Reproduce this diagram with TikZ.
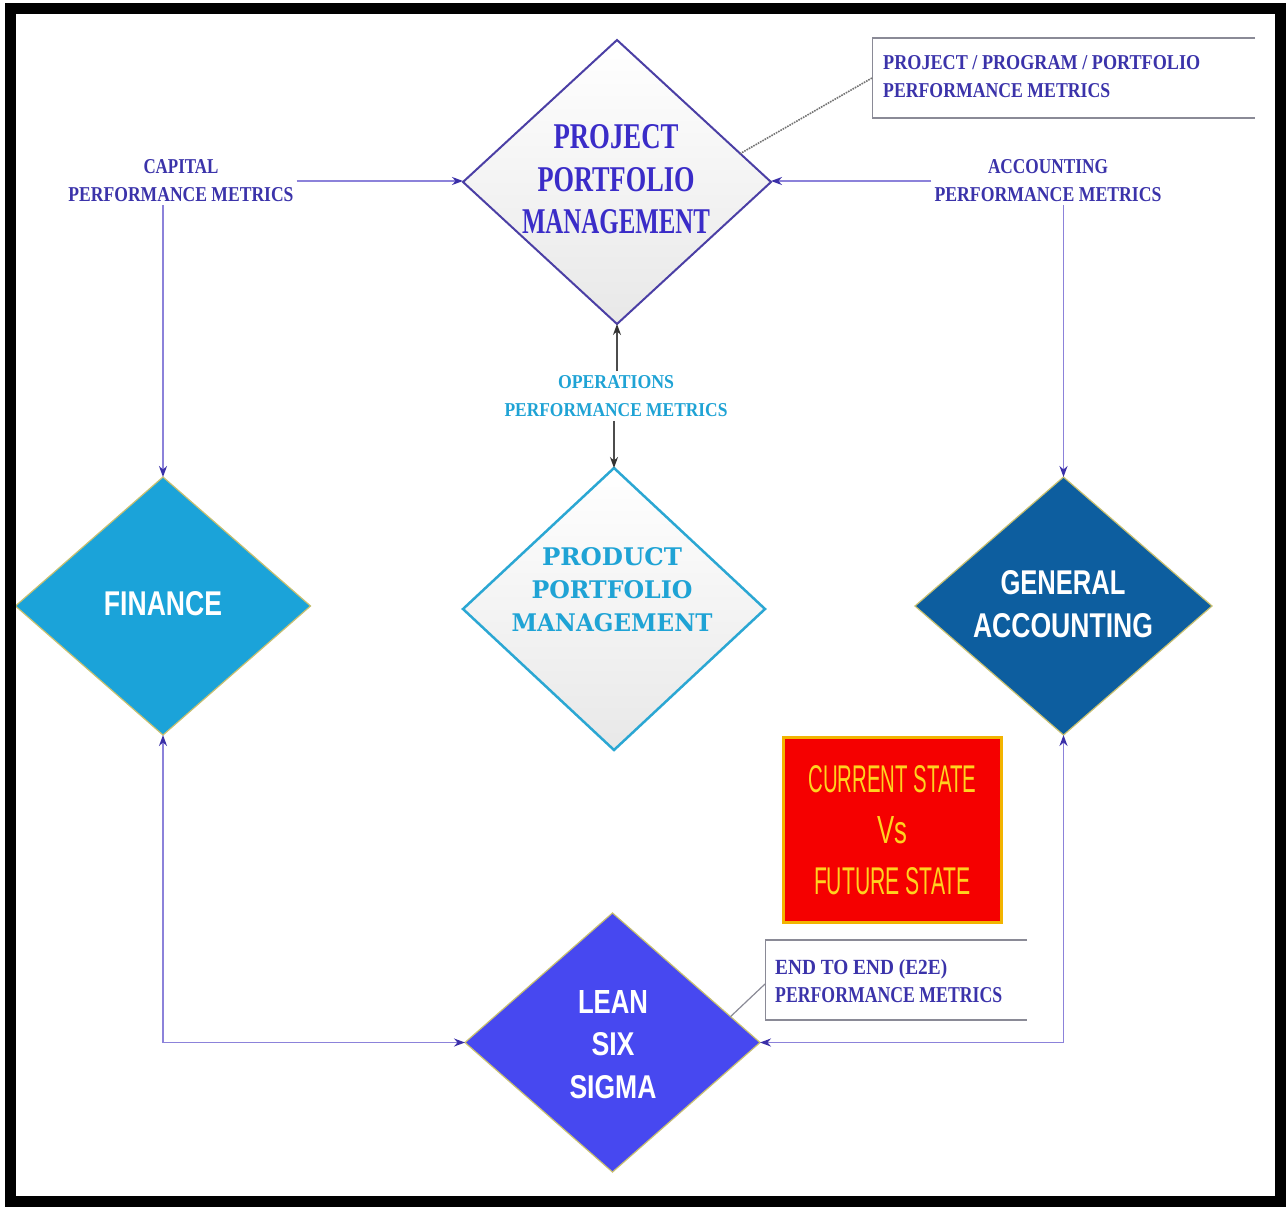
\documentclass[tikz,border=0pt]{standalone}
\usepackage{fontspec}
\usepackage{graphicx}
\usetikzlibrary{shapes.geometric,arrows.meta,calc}
\newfontfamily\lserif{Liberation Serif}
\newfontfamily\lsans{Liberation Sans}
\newfontfamily\dvserif{DejaVu Serif}
\newcommand\fl[3]{\resizebox{#1pt}{#2pt}{#3}}
\definecolor{ppmtext}{HTML}{3A2CC8}
\definecolor{ppmedge}{HTML}{4B3FA5}
\definecolor{metric}{HTML}{3B33AA}
\definecolor{opstext}{HTML}{1FA3D5}
\definecolor{prodedge}{HTML}{2BA7D3}
\definecolor{finfill}{HTML}{1BA3D9}
\definecolor{gafill}{HTML}{0D5E9F}
\definecolor{lssfill}{HTML}{4748F0}
\definecolor{glow}{HTML}{C8C070}
\definecolor{redbox}{HTML}{F50000}
\definecolor{rededge}{HTML}{F2B400}
\definecolor{redtext}{HTML}{FFD21F}
\definecolor{linec}{HTML}{8C82DA}
\definecolor{tipc}{HTML}{3A2FA8}
\definecolor{boxline}{HTML}{8A8A96}
\tikzset{
  dia/.style={diamond, inner sep=0pt, outer sep=0pt},
  txt/.style={inner sep=0pt, align=center},
  metriclbl/.style={txt, text=metric, font={\lserif\bfseries\fontsize{20}{28}\selectfont}},
  conn/.style={draw=linec, line width=1.8pt, -{Stealth[length=11pt,width=8pt,color=tipc]}},
  bconn/.style={draw=linec, line width=1.8pt, {Stealth[length=11pt,width=8pt,color=tipc]}-{Stealth[length=11pt,width=8pt,color=tipc]}},
  opsconn/.style={draw=black!70, line width=1.3pt, -{Stealth[length=11pt,width=8pt,color=black!80]}},
  callbox/.style={inner sep=0pt, outer sep=0pt},
}
\begin{document}
\begin{tikzpicture}[x=1pt,y=-1pt]
\useasboundingbox (0,0) rectangle (1287,1207);
\fill[white] (0,0) rectangle (1287,1207);

% diamonds
\node[dia, minimum width=308pt, minimum height=284pt, draw=ppmedge, line width=2pt,
      top color=white, bottom color=black!9] (ppm) at (617,182) {};
\node[dia, minimum width=295pt, minimum height=258pt, fill=finfill, draw=glow, line width=1.2pt] (fin) at (163,606) {};
\node[dia, minimum width=302pt, minimum height=282pt, draw=prodedge, line width=2.5pt,
      top color=white, bottom color=black!9] (prod) at (614,609) {};
\node[dia, minimum width=297pt, minimum height=258pt, fill=gafill, draw=glow, line width=1.2pt] (ga) at (1063.5,606) {};
\node[dia, minimum width=295pt, minimum height=259pt, fill=lssfill, draw=glow, line width=1.2pt] (lss) at (612.5,1042.5) {};

% diamond texts
\node[txt, text=ppmtext, font={\lserif\bfseries\fontsize{20}{42.5}\selectfont}] (ppmt) at (616,179.5)
  {\fl{125}{24}{PROJECT}\\\fl{157}{24}{PORTFOLIO}\\\fl{188}{24}{MANAGEMENT}};
\node[txt, text=white, font={\lsans\bfseries\fontsize{20}{40}\selectfont}] (fint) at (163,604) {\fl{118}{24}{FINANCE}};
\node[txt, text=opstext, font={\dvserif\bfseries\fontsize{20}{33}\selectfont}] (prodt) at (612,590)
  {\fl{140}{18}{PRODUCT}\\\fl{161}{18}{PORTFOLIO}\\\fl{201}{18}{MANAGEMENT}};
\node[txt, text=white, font={\lsans\bfseries\fontsize{20}{43}\selectfont}] (gat) at (1063,604.5)
  {\fl{125}{24}{GENERAL}\\\fl{180}{24}{ACCOUNTING}};
\node[txt, text=white, font={\lsans\bfseries\fontsize{20}{42.5}\selectfont}] (lsst) at (613,1044.5)
  {\fl{70}{23}{LEAN}\\\fl{43}{23}{SIX}\\\fl{87}{23}{SIGMA}};

% metric labels
\node[metriclbl, inner sep=3pt] (caplbl) at (181,181)
  {\fl{75}{14}{CAPITAL}\\\fl{225}{14}{PERFORMANCE METRICS}};
\node[metriclbl, inner sep=3pt] (acclbl) at (1048,181)
  {\fl{120}{14}{ACCOUNTING}\\\fl{227}{14}{PERFORMANCE METRICS}};
\node[metriclbl, inner sep=4pt, text=opstext] (opslbl) at (616,396)
  {\fl{116}{13}{OPERATIONS}\\\fl{223}{13}{PERFORMANCE METRICS}};

% callout boxes
\node[callbox, minimum width=383pt, minimum height=80pt] (topbox) at (1063.5,78) {};
\draw[boxline, line width=2.5pt] (topbox.north east) -- (topbox.north west);
\draw[boxline, line width=2.5pt] (topbox.south west) -- (topbox.south east);
\draw[boxline, line width=1pt] (topbox.north west) -- (topbox.south west);
\node[metriclbl, anchor=north west, align=left] (toptext) at (883,55)
  {\fl{317}{14}{PROJECT / PROGRAM / PORTFOLIO}\\\fl{227}{14}{PERFORMANCE METRICS}};
\draw[black!55, densely dotted, line width=1.6pt] (topbox.west) -- ($(ppm.north)!0.8!(ppm.east)$);

\node[callbox, minimum width=262pt, minimum height=80pt] (e2ebox) at (896,980) {};
\draw[boxline, line width=2.5pt] (e2ebox.north east) -- (e2ebox.north west);
\draw[boxline, line width=2.5pt] (e2ebox.south west) -- (e2ebox.south east);
\draw[boxline, line width=1pt] (e2ebox.north west) -- (e2ebox.south west);
\node[metriclbl, anchor=north west, align=left] (e2etext) at (775,959.5)
  {\fl{172}{15}{END TO END (E2E)}\\\fl{227}{15}{PERFORMANCE METRICS}};
\draw[boxline, line width=1.2pt] ($(e2ebox.west)+(0,4)$) -- ($(lss.north)!0.8!(lss.east)$);

% red box
\node[draw=rededge, line width=3pt, fill=redbox, minimum width=218pt, minimum height=185pt,
      txt, text=redtext, font={\lsans\fontsize{20}{51}\selectfont}] (state) at (892.5,830)
  {\fl{168}{27}{CURRENT STATE}\\\fl{30}{27}{Vs}\\\fl{157}{27}{FUTURE STATE}};

% connectors
\draw[conn] (caplbl.east) -- (caplbl.east -| ppm.west);
\draw[conn] (acclbl.west) -- (acclbl.west -| ppm.east);
\draw[conn] (caplbl.south -| fin.north) -- (fin.north);
\draw[conn] (acclbl.south -| ga.north) -- (ga.north);
\draw[opsconn] (opslbl.north -| ppm.south) -- (ppm.south);
\draw[opsconn] (opslbl.south -| prod.north) -- (prod.north);
\draw[bconn] (fin.south) |- (lss.west);
\draw[bconn] (ga.south) |- (lss.east);

% frame
\draw[black, line width=11pt] (10,9) rectangle (1280,1201);
\end{tikzpicture}
\end{document}
